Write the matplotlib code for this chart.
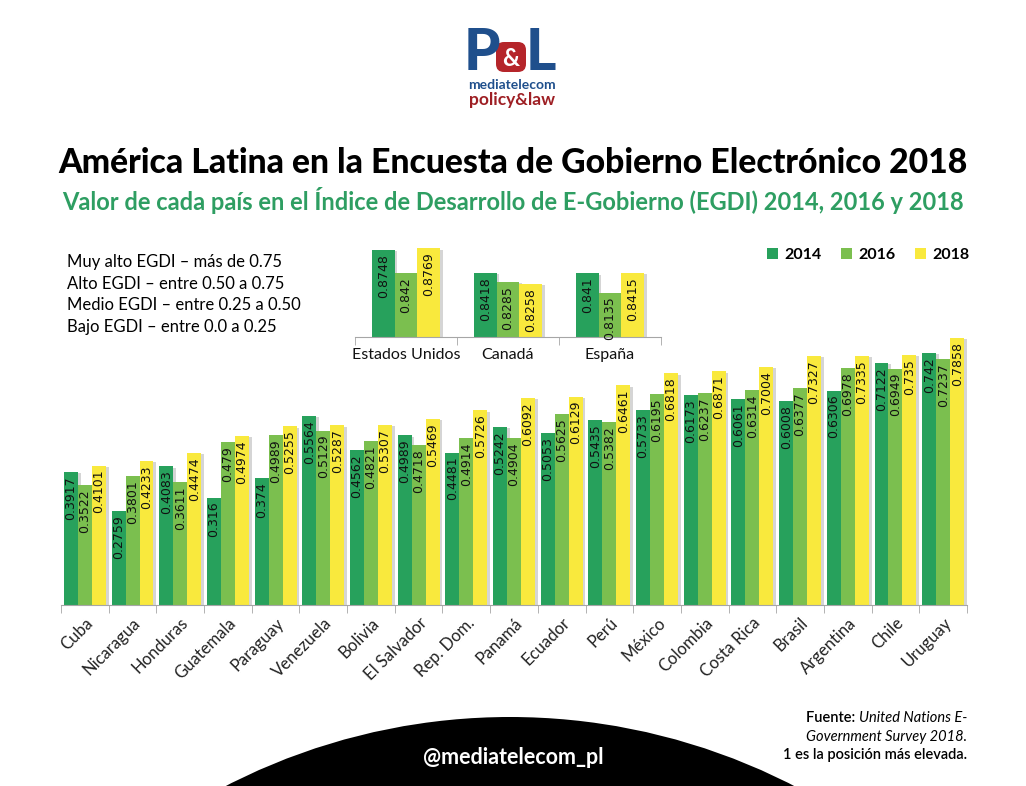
import matplotlib
matplotlib.use("Agg")
import matplotlib.pyplot as plt
import matplotlib.patheffects as pe
from matplotlib.patches import Circle, FancyBboxPatch
import numpy as np

countries = ["Cuba", "Nicaragua", "Honduras", "Guatemala", "Paraguay", "Venezuela",
             "Bolivia", "El Salvador", "Rep. Dom.", "Panamá", "Ecuador", "Perú",
             "México", "Colombia", "Costa Rica", "Brasil", "Argentina", "Chile", "Uruguay"]
egdi_2014 = [0.3917, 0.2759, 0.4083, 0.316, 0.374, 0.5564, 0.4562, 0.4989, 0.4481, 0.5242,
             0.5053, 0.5435, 0.5733, 0.6173, 0.6061, 0.6008, 0.6306, 0.7122, 0.742]
egdi_2016 = [0.3522, 0.3801, 0.3611, 0.479, 0.4989, 0.5129, 0.4821, 0.4718, 0.4914, 0.4904,
             0.5625, 0.5382, 0.6195, 0.6237, 0.6314, 0.6377, 0.6978, 0.6949, 0.7237]
egdi_2018 = [0.4101, 0.4233, 0.4474, 0.4974, 0.5255, 0.5287, 0.5307, 0.5469, 0.5726, 0.6092,
             0.6129, 0.6461, 0.6818, 0.6871, 0.7004, 0.7327, 0.7335, 0.735, 0.7858]

ref_countries = ["Estados Unidos", "Canadá", "España"]
ref_2014 = [0.8748, 0.8418, 0.841]
ref_2016 = [0.842, 0.8285, 0.8135]
ref_2018 = [0.8769, 0.8258, 0.8415]

years = ["2014", "2016", "2018"]
colors = ["#27a15c", "#7bbf4f", "#f9e93d"]

levels = ["Muy alto EGDI – más de 0.75",
          "Alto EGDI – entre 0.50 a 0.75",
          "Medio EGDI – entre 0.25 a 0.50",
          "Bajo EGDI – entre 0.0 a 0.25"]

W, H = 1026, 786
fig = plt.figure(figsize=(W / 100, H / 100), dpi=100)
plt.rcParams["font.family"] = ["Lato", "DejaVu Sans"]

shadow = [pe.SimplePatchShadow(offset=(2, -1), shadow_rgbFace="#888888", alpha=0.35), pe.Normal()]


def ax_rect(left, top, right, bottom):
    return [left / W, 1 - bottom / H, (right - left) / W, (bottom - top) / H]


def grouped_bars(ax, series, width, fs):
    x = np.arange(len(series[0]))
    for k, vals in enumerate(series):
        bars = ax.bar(x + (k - 1) * width, vals, width, color=colors[k], label=years[k],
                      zorder=2)
        for b in bars:
            b.set_path_effects(shadow)
        for xi, v in zip(x, vals):
            ax.annotate(f"{v:g}", (xi + (k - 1) * width, v), xytext=(0, -3),
                        textcoords="offset points", rotation=90, ha="center", va="top",
                        fontsize=fs, family="DejaVu Sans", color="#111111", zorder=3)
    return x


def style_axis(ax, n):
    for s in ["top", "right", "left"]:
        ax.spines[s].set_visible(False)
    ax.spines["bottom"].set_color("#a6a6a6")
    ax.set_yticks([])
    ax.set_xlim(-0.5, n - 0.5)
    ax.set_xticks(np.arange(n + 1) - 0.5, minor=True)
    ax.tick_params(axis="x", which="minor", length=6, color="#a6a6a6")
    ax.tick_params(axis="x", which="major", length=0)
    ax.patch.set_alpha(0)


# main chart
ax = fig.add_axes(ax_rect(61, 333, 967, 605))
x = grouped_bars(ax, [egdi_2014, egdi_2016, egdi_2018], 0.293, 9)
ax.set_ylim(0, 0.8)
style_axis(ax, len(countries))
ax.set_xticks(x)
ax.set_xticklabels(countries, rotation=45, ha="right", rotation_mode="anchor",
                   fontsize=12, color="#222222")
ax.tick_params(axis="x", which="major", pad=7)

# inset: reference countries
ax2 = fig.add_axes(ax_rect(355, 246, 661, 337))
x2 = grouped_bars(ax2, [ref_2014, ref_2016, ref_2018], 0.222, 9)
ax2.set_ylim(0.75, 0.88)
style_axis(ax2, len(ref_countries))
ax2.set_xticks(x2)
ax2.set_xticklabels(ref_countries, fontsize=11.5, color="#111111")
ax2.tick_params(axis="x", which="major", pad=8)

# legend
handles, labels = ax.get_legend_handles_labels()
leg = fig.legend(handles, labels, loc="center", bbox_to_anchor=(868 / W, 1 - 255 / H),
                 ncol=3, frameon=False, handlelength=0.7, handleheight=0.7,
                 handletextpad=0.4, columnspacing=1.2,
                 prop={"weight": "bold", "size": 11.5})
for h in leg.legend_handles:
    h.set_path_effects([])

# overlay axes in pixel coordinates for texts and shapes
ov = fig.add_axes([0, 0, 1, 1])
ov.set_xlim(0, W)
ov.set_ylim(H, 0)
ov.axis("off")
ov.patch.set_alpha(0)

# logo
ov.add_patch(FancyBboxPatch((498, 44), 26, 26, boxstyle="round,pad=2,rounding_size=8",
                            fc="#b5252a", ec="none", zorder=1))
ov.text(482, 70, "P", fontsize=42, weight="black", color="#1f4f8c", ha="center",
        va="baseline", zorder=2)
ov.text(511, 66, "&", fontsize=17, weight="bold", color="white", ha="center",
        va="baseline", zorder=3)
ov.text(541, 70, "L", fontsize=42, weight="black", color="#1f4f8c", ha="center",
        va="baseline", zorder=2)
ov.text(512, 85, "mediatelecom", fontsize=10, weight="bold", color="#1f4f8c",
        ha="center", va="center")
ov.text(512, 100, "policy&law", fontsize=12.5, weight="bold", color="#9e1f24",
        ha="center", va="center")

# titles
ov.text(513, 163, "América Latina en la Encuesta de Gobierno Electrónico 2018",
        fontsize=24.3, weight="black", color="black", ha="center", va="center")
ov.text(513, 200, "Valor de cada país en el Índice de Desarrollo de E-Gobierno (EGDI) 2014, 2016 y 2018",
        fontsize=17, weight="bold", color="#2e9e62", ha="center", va="center")

# EGDI levels
for i, t in enumerate(levels):
    ov.text(67, 262 + i * 21.7, t, fontsize=12, color="black", ha="left", va="center")

# bottom black shape
ov.add_patch(Circle((510, 717 + 620), 620, fc="black", ec="none", zorder=1))
ov.text(513, 758, "@mediatelecom_pl", fontsize=15.5, weight="bold", color="white",
        ha="center", va="center", zorder=2)

# source note
src = ov.text(967, 718, "United Nations E-", fontsize=10.5, style="italic", color="black",
              ha="right", va="center")
fig.canvas.draw()
bb = src.get_window_extent().transformed(ov.transData.inverted())
ov.text(min(bb.x0, bb.x1), 718, "Fuente: ", fontsize=10.5, weight="semibold",
        color="black", ha="right", va="center")
ov.text(967, 737, "Government Survey 2018.", fontsize=10.5, style="italic", color="black",
        ha="right", va="center")
ov.text(967, 755, "1 es la posición más elevada.", fontsize=10.5, weight="semibold",
        color="black", ha="right", va="center")

fig.savefig("out.png", dpi=100)
